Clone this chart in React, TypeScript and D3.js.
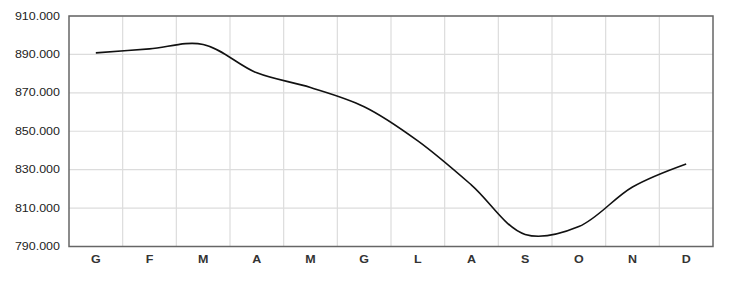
import React from "react";
import * as d3 from "d3";

const months = ["G", "F", "M", "A", "M", "G", "L", "A", "S", "O", "N", "D"];
const values = [890800, 892900, 895200, 880400, 872800, 862800, 845000, 822000, 796300, 800400, 821000, 833000];
const yTicks = [790000, 810000, 830000, 850000, 870000, 890000, 910000];

const W = 735;
const H = 282;
const left = 69;
const right = 713;
const top = 16;
const bottom = 246.5;
const SX = 1.25;

export default function App() {
  const x = d3.scaleBand<number>().domain(d3.range(months.length)).range([left, right]);
  const y = d3.scaleLinear().domain([790000, 910000]).range([bottom, top]);
  const fmt = (v: number) => d3.format(",.0f")(v).replace(/,/g, ".");
  const line = d3
    .line<number>()
    .x((_, i) => (x(i) as number) + x.bandwidth() / 2)
    .y((d) => y(d))
    .curve(d3.curveCatmullRom.alpha(0.5));
  const font = "'Liberation Sans', Arial, sans-serif";
  return (
    <svg width={W} height={H} style={{ position: "absolute", left: 0, top: 0, background: "#fff" }}>
      {yTicks.map((t) => (
        <line key={"h" + t} x1={left} x2={right} y1={y(t)} y2={y(t)} stroke="#dcdcdc" strokeWidth={1.2} />
      ))}
      {d3.range(1, months.length).map((i) => (
        <line key={"v" + i} x1={x(i) as number} x2={x(i) as number} y1={top} y2={bottom} stroke="#dcdcdc" strokeWidth={1.2} />
      ))}
      <rect x={left} y={top} width={right - left} height={bottom - top} fill="none" stroke="#666" strokeWidth={1.5} />
      <path d={line(values) || ""} fill="none" stroke="#111" strokeWidth={1.6} />
      {yTicks.map((t) => (
        <text
          key={"t" + t}
          transform={`translate(60,${y(t) + 3.5}) scale(${SX},1)`}
          textAnchor="end"
          fontFamily={font}
          fontSize={10}
          fill="#222"
        >
          {fmt(t)}
        </text>
      ))}
      {months.map((m, i) => (
        <text
          key={"m" + i}
          transform={`translate(${(x(i) as number) + x.bandwidth() / 2},${262.5}) scale(${SX},1)`}
          textAnchor="middle"
          fontFamily={font}
          fontSize={10}
          fontWeight="bold"
          fill="#333"
        >
          {m}
        </text>
      ))}
    </svg>
  );
}
